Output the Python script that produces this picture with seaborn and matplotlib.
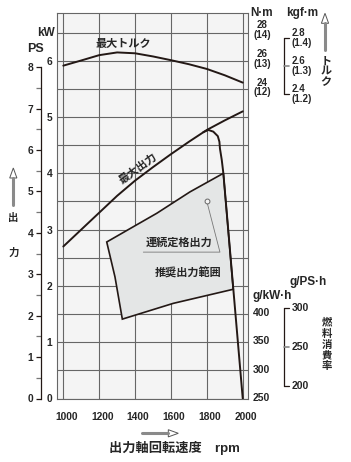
import numpy as np
import matplotlib
matplotlib.use("Agg")
import matplotlib.pyplot as plt
import seaborn as sns
from matplotlib.lines import Line2D
from matplotlib.patches import Polygon
from matplotlib.transforms import blended_transform_factory, ScaledTranslation

# ---- data ----
# 最大トルク (N·m)
torque_rpm = [1000, 1100, 1200, 1300, 1400, 1500, 1600, 1700, 1800, 1900, 2000]
torque_nm = [25.52, 25.88, 26.25, 26.44, 26.38, 26.16, 25.90, 25.62, 25.29, 24.85, 24.34]

# 最大出力 (kW)
power_rpm = [1000, 1100, 1200, 1300, 1400, 1500, 1600, 1700, 1800, 1900, 2000]
power_kw = [2.70, 3.00, 3.30, 3.60, 3.87, 4.11, 4.34, 4.56, 4.77, 4.94, 5.10]

# governor branch (kW)
gov_rpm = [1780, 1808, 1836, 1861, 1870, 1873, 1883, 1892, 2000]
gov_kw = [4.73, 4.77, 4.74, 4.66, 4.56, 4.44, 4.24, 4.00, 0.0]

# 推奨出力範囲 outline (kW)
range_rpm = [1242, 1521, 1706, 1892, 1947, 1613, 1329, 1288]
range_kw = [2.78, 3.29, 3.67, 4.00, 1.94, 1.69, 1.41, 2.16]

# 連続定格出力
rated_rpm = 1800
rated_kw = 3.5

# axis ticks
rpm_ticks = [1000, 1200, 1400, 1600, 1800, 2000]
kw_ticks = [0, 1, 2, 3, 4, 5, 6]
kw_half = [0.5, 1.5, 2.5, 3.5, 4.5, 5.5, 6.5]
ps_ticks = [0, 1, 2, 3, 4, 5, 6, 7, 8]
ps_half = [0.5, 1.5, 2.5, 3.5, 4.5, 5.5, 6.5, 7.5]
nm_ticks = [28, 26, 24]
nm_sub = ["(14)", "(13)", "(12)"]
kgfm_ticks = [2.8, 2.6, 2.4]
kgfm_sub = ["(1.4)", "(1.3)", "(1.2)"]
fuel_kwh_ticks = [400, 350, 300, 250]
fuel_psh_ticks = [300, 250, 200]

KW_PER_PS = 0.7355
NM_PER_KGFM = 9.80665

W, H = 351, 462
INK = "#231815"
GRID = "#666666"

sns.set_style("white")
plt.rcParams["font.family"] = ["Liberation Sans", "Noto Sans CJK JP", "DejaVu Sans"]
plt.rcParams["font.weight"] = "bold"

fig = plt.figure(figsize=(W / 100, H / 100), dpi=100)

# plot frame in pixels
PX_L, PX_R, PX_T, PX_B = 57.3, 248.3, 13.3, 398.5
ax = fig.add_axes([PX_L / W, (H - PX_B) / H, (PX_R - PX_L) / W, (PX_B - PX_T) / H])
ax.set_facecolor("#f4f4f4")


def fx(px):
    # pixel x -> axes fraction
    return (px - PX_L) / (PX_R - PX_L)


def put(txt, x, y, **kw):
    # text placed in pixel coords (top-left origin)
    kw.setdefault("ha", "center")
    kw.setdefault("va", "center")
    kw.setdefault("fontweight", "bold")
    ax.annotate(txt, xy=(x, H - y), xycoords="figure pixels", annotation_clip=False, **kw)


def arrow(x0, y0, x1, y1, hl=10, hw=3.6):
    # grey shaft + hollow head, pixel coords
    v = np.array([x1 - x0, y0 - y1], float)
    L = np.hypot(*v)
    u = v / L
    n = np.array([-u[1], u[0]])
    tail = np.array([x0, H - y0])
    tip = np.array([x1, H - y1])
    base = tip - u * hl
    fig.add_artist(Line2D([tail[0] / W, base[0] / W], [tail[1] / H, base[1] / H],
                          transform=fig.transFigure, color="#8a8a8a", lw=2.2))
    pts = np.array([tip, base + n * hw, base - n * hw])
    pts[:, 0] /= W
    pts[:, 1] /= H
    fig.add_artist(Polygon(pts, closed=True, transform=fig.transFigure,
                           fc="white", ec="#555555", lw=0.7))


ax.set_xlim(966.6, 2031)
ax.set_ylim(0, (PX_B - PX_T) / 56.3)

# recommended range
ax.fill(range_rpm, range_kw, facecolor="#e4e6e6", edgecolor=INK, lw=1.2, zorder=2)

# max output + governor
sns.lineplot(x=power_rpm, y=power_kw, ax=ax, color=INK, lw=1.4, estimator=None, zorder=3)
sns.lineplot(x=gov_rpm, y=gov_kw, ax=ax, color=INK, lw=1.4, estimator=None, zorder=3)

# continuous rating leader
ax.plot([rated_rpm, 1873, 1446], [rated_kw, 2.60, 2.60], color="#777777", lw=0.6, zorder=4)
ax.plot([rated_rpm], [rated_kw], "o", mfc="#f4f4f4", mec="#666666", ms=3.5, mew=0.7, zorder=5)

ax.text(1334, 6.29, "最大トルク", ha="center", va="center", fontsize=8, fontweight="bold")
ax.text(1414, 4.09, "最大出力", ha="center", va="center", fontsize=8, fontweight="bold",
        rotation=36, rotation_mode="anchor")
ax.text(1646, 2.76, "連続定格出力", ha="center", va="center", fontsize=8, fontweight="bold", zorder=6)
ax.text(1696, 2.23, "推奨出力範囲", ha="center", va="center", fontsize=8, fontweight="bold", zorder=6)

# grid / ticks
ax.set_xticks(rpm_ticks)
ax.set_yticks(kw_ticks)
ax.set_yticks(kw_half, minor=True)
ax.grid(True, which="both", color=GRID, lw=0.8)
ax.set_axisbelow(True)
ax.tick_params(which="both", length=0)
ax.tick_params(axis="x", pad=9.5, labelsize=7.4)
ax.tick_params(axis="y", pad=3.5, labelsize=7.4)
for s in ax.spines.values():
    s.set_color(GRID)
    s.set_linewidth(0.8)
for t in ax.xaxis.get_major_ticks():
    t.label1.set_transform(t.label1.get_transform() + ScaledTranslation(3 / 100, 0, fig.dpi_scale_trans))
for t in ax.get_xticklabels() + ax.get_yticklabels():
    t.set_fontweight("bold")

# PS axis
sec = ax.secondary_yaxis(fx(41), functions=(lambda k: k / KW_PER_PS, lambda p: p * KW_PER_PS))
sec.set_yticks(ps_ticks)
sec.set_yticks(ps_half, minor=True)
sec.tick_params(which="both", direction="out", length=3.6, width=0.9, color=INK, pad=2, labelsize=7.4)
sec.tick_params(which="minor", color="#777777")
sec.spines["left"].set_bounds(0, 8)
sec.spines["left"].set_color(INK)
sec.spines["left"].set_linewidth(0.9)
for t in sec.get_yticklabels():
    t.set_fontweight("bold")

# torque axis (N·m)
axt = ax.twinx()
axt.set_ylim(28 - (PX_B - 30) / 14.375, 28 + (30 - PX_T) / 14.375)
axt.axis("off")
sns.lineplot(x=torque_rpm, y=torque_nm, ax=axt, color=INK, lw=1.4, estimator=None)
trt = blended_transform_factory(axt.transAxes, axt.transData)
for v, s in zip(nm_ticks, nm_sub):
    axt.text(fx(262.5), v, f"{v}\n{s}", transform=trt, ha="center", va="center",
             fontsize=7, fontweight="bold", linespacing=0.95)
kg_nm = [v * NM_PER_KGFM for v in kgfm_ticks]
axt.plot([fx(284.3)] * 2, [kg_nm[0], kg_nm[-1]], transform=trt, clip_on=False, color=INK, lw=0.9)
for i, (v, s) in enumerate(zip(kgfm_ticks, kgfm_sub)):
    c = "#888888" if i == 1 else INK
    axt.plot([fx(283.5) if i == 1 else fx(284.3), fx(289)], [kg_nm[i]] * 2, transform=trt,
             clip_on=False, color=c, lw=1.2 if i == 1 else 0.9)
    axt.text(fx(291.8), kg_nm[i], f"{v}\n{s}", transform=trt, ha="left", va="center",
             fontsize=7, fontweight="bold", linespacing=0.95)

# fuel consumption axis (g/kW·h)
axf = ax.twinx()
axf.set_ylim(250 - (PX_B - 398.3) / 0.571, 250 + (398.3 - PX_T) / 0.571)
axf.axis("off")
trf = blended_transform_factory(axf.transAxes, axf.transData)
for v in fuel_kwh_ticks:
    axf.text(fx(253), v, str(v), transform=trf, ha="left", va="center", fontsize=7.5, fontweight="bold")
ps_g = [v / KW_PER_PS for v in fuel_psh_ticks]
axf.plot([fx(284.3)] * 2, [ps_g[0], ps_g[-1]], transform=trf, clip_on=False, color=INK, lw=0.9)
for i, v in enumerate(fuel_psh_ticks):
    c = "#888888" if i == 1 else INK
    axf.plot([fx(283.5) if i == 1 else fx(284.3), fx(289)], [ps_g[i]] * 2, transform=trf,
             clip_on=False, color=c, lw=1.2 if i == 1 else 0.9)
    axf.text(fx(291.8), ps_g[i], str(v), transform=trf, ha="left", va="center",
             fontsize=7.5, fontweight="bold")

# unit labels
put("kW", 46, 33, fontsize=8.5)
put("PS", 35, 49, fontsize=9)
put("N·m", 262, 13.3, fontsize=8.5)
put("kgf·m", 302, 13.3, fontsize=8.5)
put("g/PS·h", 308, 282, fontsize=8.5)
put("g/kW·h", 272, 296, fontsize=8.5)

# side titles
arrow(13.3, 205, 13.3, 168)
put("出", 13.3, 218.3, fontsize=7.5)
put("力", 13.3, 252.7, fontsize=7.5)
arrow(325, 50, 325, 13.3)
put("\n".join("トルク"), 326, 71.7, fontsize=8, linespacing=1.02)
put("\n".join("燃料消費率"), 326.7, 344.5, fontsize=7.5, linespacing=1.1)
arrow(141.7, 433.3, 178.3, 433.3)
put("出力軸回転速度\u3000rpm", 174, 448, fontsize=9.5)

fig.savefig("out.png", dpi=100)
